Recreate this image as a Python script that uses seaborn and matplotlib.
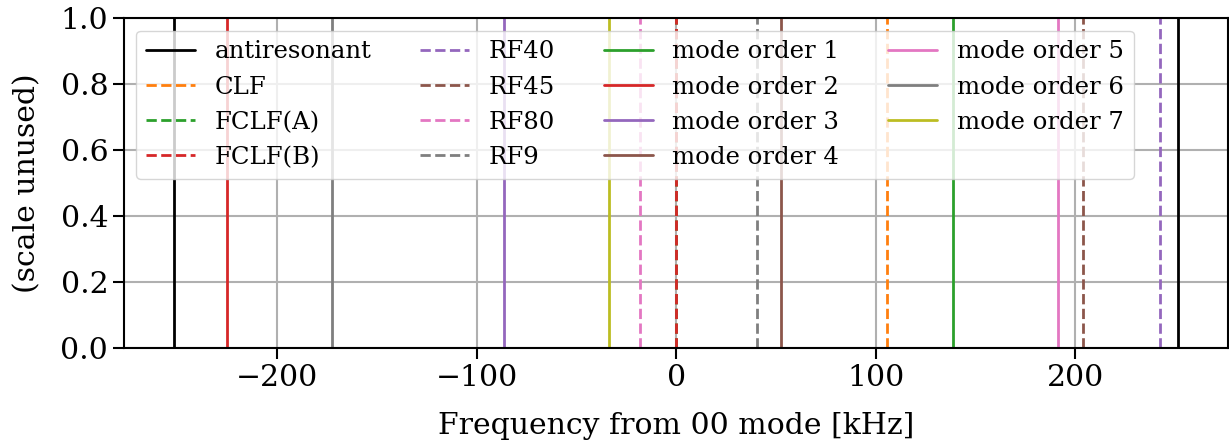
import matplotlib
matplotlib.use("Agg")
import matplotlib.pyplot as plt
import seaborn as sns

# --- data (kHz from 00 mode) ---
antiresonant = [-251.7, 251.7]
ref_labels = ["CLF", "FCLF(A)", "FCLF(B)", "RF40", "RF45", "RF80", "RF9"]
ref_values = [105.6, 0.0, 0.0, 242.5, 203.9, -18.4, 40.7]
mode_orders = [1, 2, 3, 4, 5, 6, 7]
mode_values = [139.0, -225.4, -86.4, 52.6, 191.6, -172.8, -33.8]

sns.set_style("ticks", {"axes.grid": True, "grid.color": "#b0b0b0",
                        "axes.edgecolor": "black", "xtick.color": "black",
                        "ytick.color": "black", "text.color": "black",
                        "axes.labelcolor": "black"})
plt.rcParams["font.family"] = ["DejaVu Serif"]
plt.rcParams["font.size"] = 21.5
pal = sns.color_palette("tab10")

fig, ax = plt.subplots(figsize=(12.29, 4.43), dpi=100)
fig.subplots_adjust(left=0.101, right=0.9995, top=0.9587, bottom=0.2137)

lw = 2.0
for i, x in enumerate(antiresonant):
    ax.axvline(x, color="black", lw=lw, label="antiresonant" if i == 0 else None)
for i, (lab, x) in enumerate(zip(ref_labels, ref_values)):
    ax.axvline(x, color=pal[(i + 1) % 10], lw=lw, ls="--", label=lab)
for i, (n, x) in enumerate(zip(mode_orders, mode_values)):
    ax.axvline(x, color=pal[(i + 2) % 10], lw=lw, ls="-", label=f"mode order {n}")

ax.set_ylim(0, 1)
ax.set_xlabel("Frequency from 00 mode [kHz]", fontsize=21.5, labelpad=14)
ax.set_ylabel("(scale unused)", fontsize=21.5, labelpad=14)
ax.tick_params(axis="both", labelsize=21.5, length=8, width=1.5, direction="out")
for s in ax.spines.values():
    s.set_linewidth(1.5)
ax.grid(True, color="#b0b0b0", lw=1.5)
ax.legend(ncol=4, loc="upper left", fontsize=17.6)

fig.savefig("out.png", dpi=100)
